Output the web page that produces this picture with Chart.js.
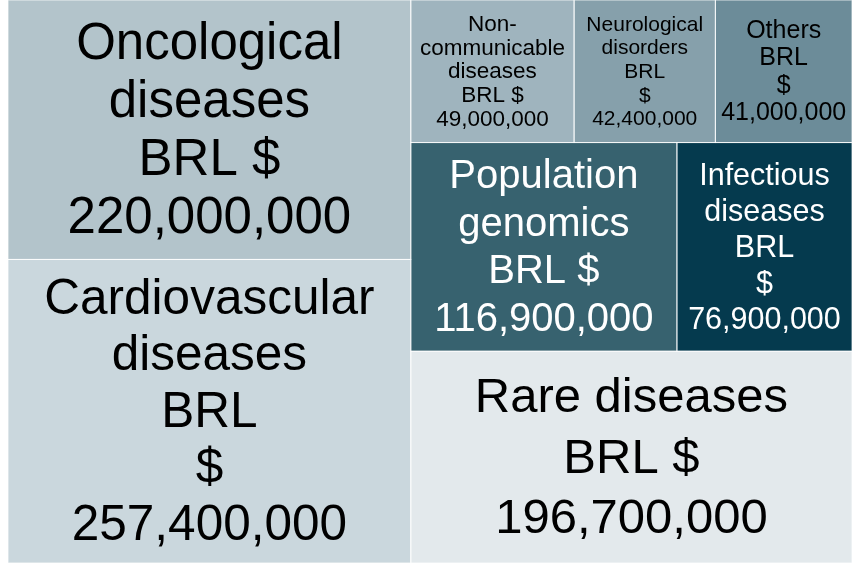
<!DOCTYPE html>
<html>
<head>
<meta charset="utf-8">
<script src="https://cdn.jsdelivr.net/npm/chart.js@4/dist/chart.umd.min.js"></script>
<style>
  html, body { margin: 0; padding: 0; background: #ffffff; }
  #wrap { width: 860px; height: 563px; }
</style>
</head>
<body>
<div id="wrap"><canvas id="chart" width="860" height="563"></canvas></div>
<script>
// ---------------- data ----------------
const categories = [
  "Oncological diseases",
  "Cardiovascular diseases",
  "Non-communicable diseases",
  "Neurological disorders",
  "Others",
  "Population genomics",
  "Infectious diseases",
  "Rare diseases"
];
const values = [220000000, 257400000, 49000000, 42400000, 41000000, 116900000, 76900000, 196700000];
const currencyLabel = "BRL $";
// how each label wraps inside its cell (text only)
const labelLines = [
  ["Oncological", "diseases", "BRL $"],
  ["Cardiovascular", "diseases", "BRL", "$"],
  ["Non-", "communicable", "diseases", "BRL $"],
  ["Neurological", "disorders", "BRL", "$"],
  ["Others", "BRL", "$"],
  ["Population", "genomics", "BRL $"],
  ["Infectious", "diseases", "BRL", "$"],
  ["Rare diseases", "BRL $"]
];

// ---------------- styles ----------------
const cellColors = ["#b3c4cb", "#cad7dd", "#9fb4be", "#86a0ab", "#6c8c99", "#37626f", "#053a4e", "#e3e9ec"];
const textColors = ["#000000", "#000000", "#000000", "#000000", "#000000", "#ffffff", "#ffffff", "#000000"];
const fontSizes = [51, 49.5, 22.5, 21, 25, 40, 30.5, 49];
const lineHeights = [58, 56.5, 23.7, 23.7, 27.5, 47.5, 36, 60.5];
const FONT_FAMILY = '"Liberation Sans", Arial, Helvetica, sans-serif';

// ---------------- squarified layout (in data units of the scales) ----------------
function squarify(vals, x0, y0, x1, y1) {
  const out = new Array(vals.length);
  let value = vals.reduce((a, b) => a + b, 0);
  const n = vals.length;
  let i0 = 0;
  while (i0 < n) {
    const dx = x1 - x0, dy = y1 - y0;
    let i1 = i0;
    let sum = vals[i1++];
    let minV = sum, maxV = sum;
    const alpha = Math.max(dy / dx, dx / dy) / value;
    let beta = sum * sum * alpha;
    let minRatio = Math.max(maxV / beta, beta / minV);
    for (; i1 < n; ++i1) {
      const v = vals[i1];
      sum += v;
      const mn = Math.min(minV, v), mx = Math.max(maxV, v);
      beta = sum * sum * alpha;
      const r = Math.max(mx / beta, beta / mn);
      if (r > minRatio) { sum -= v; break; }
      minRatio = r; minV = mn; maxV = mx;
    }
    if (dx < dy) {
      const h = dy * sum / value;
      let x = x0;
      for (let i = i0; i < i1; i++) {
        const w = dx * vals[i] / sum;
        out[i] = { x0: x, x1: x + w, y0: y0, y1: y0 + h };
        x += w;
      }
      y0 += h;
    } else {
      const w = dx * sum / value;
      let y = y0;
      for (let i = i0; i < i1; i++) {
        const h = dy * vals[i] / sum;
        out[i] = { x0: x0, x1: x0 + w, y0: y, y1: y + h };
        y += h;
      }
      x0 += w;
    }
    value -= sum;
    i0 = i1;
  }
  return out;
}

const cells = squarify(values, 0, 0, 1, 1);

function formatValue(v) {
  return v.toLocaleString("en-US");
}

const treemapPlugin = {
  id: "treemapCells",
  beforeDatasetsDraw(chart) {
    const ctx = chart.ctx;
    const xs = chart.scales.x, ys = chart.scales.y;
    ctx.save();
    cells.forEach((c, i) => {
      const px0 = xs.getPixelForValue(c.x0), px1 = xs.getPixelForValue(c.x1);
      const py0 = ys.getPixelForValue(c.y0), py1 = ys.getPixelForValue(c.y1);
      ctx.fillStyle = cellColors[i];
      ctx.fillRect(px0, py0, px1 - px0, py1 - py0);
    });
    // thin light separators
    ctx.strokeStyle = "rgba(255,255,255,0.75)";
    ctx.lineWidth = 1;
    cells.forEach((c) => {
      const px0 = xs.getPixelForValue(c.x0), px1 = xs.getPixelForValue(c.x1);
      const py0 = ys.getPixelForValue(c.y0), py1 = ys.getPixelForValue(c.y1);
      ctx.strokeRect(px0, py0, px1 - px0, py1 - py0);
    });
    // labels
    ctx.textAlign = "center";
    ctx.textBaseline = "middle";
    cells.forEach((c, i) => {
      const cx = xs.getPixelForValue((c.x0 + c.x1) / 2);
      const cy = ys.getPixelForValue((c.y0 + c.y1) / 2);
      const lines = labelLines[i].concat([formatValue(values[i])]);
      const lh = lineHeights[i];
      const size = fontSizes[i];
      ctx.font = size + "px " + FONT_FAMILY;
      ctx.fillStyle = textColors[i];
      const start = cy - (lines.length - 1) * lh / 2 + size * 0.04;
      lines.forEach((t, k) => ctx.fillText(t, cx, start + k * lh));
    });
    ctx.restore();
  }
};

new Chart(document.getElementById("chart"), {
  type: "scatter",
  data: {
    datasets: [{
      label: "Funding",
      data: cells.map((c, i) => ({ x: (c.x0 + c.x1) / 2, y: (c.y0 + c.y1) / 2, name: categories[i], v: values[i] })),
      pointRadius: 0,
      pointHoverRadius: 0
    }]
  },
  options: {
    responsive: false,
    animation: false,
    layout: { padding: { left: 8, right: 8, top: 0, bottom: 0 } },
    scales: {
      x: { type: "linear", min: 0, max: 1, display: false },
      y: { type: "linear", min: 0, max: 1, reverse: true, display: false }
    },
    plugins: {
      legend: { display: false },
      tooltip: {
        callbacks: {
          label: (item) => item.raw.name + ": " + currencyLabel + " " + formatValue(item.raw.v)
        }
      }
    }
  },
  plugins: [treemapPlugin]
});
</script>
</body>
</html>
